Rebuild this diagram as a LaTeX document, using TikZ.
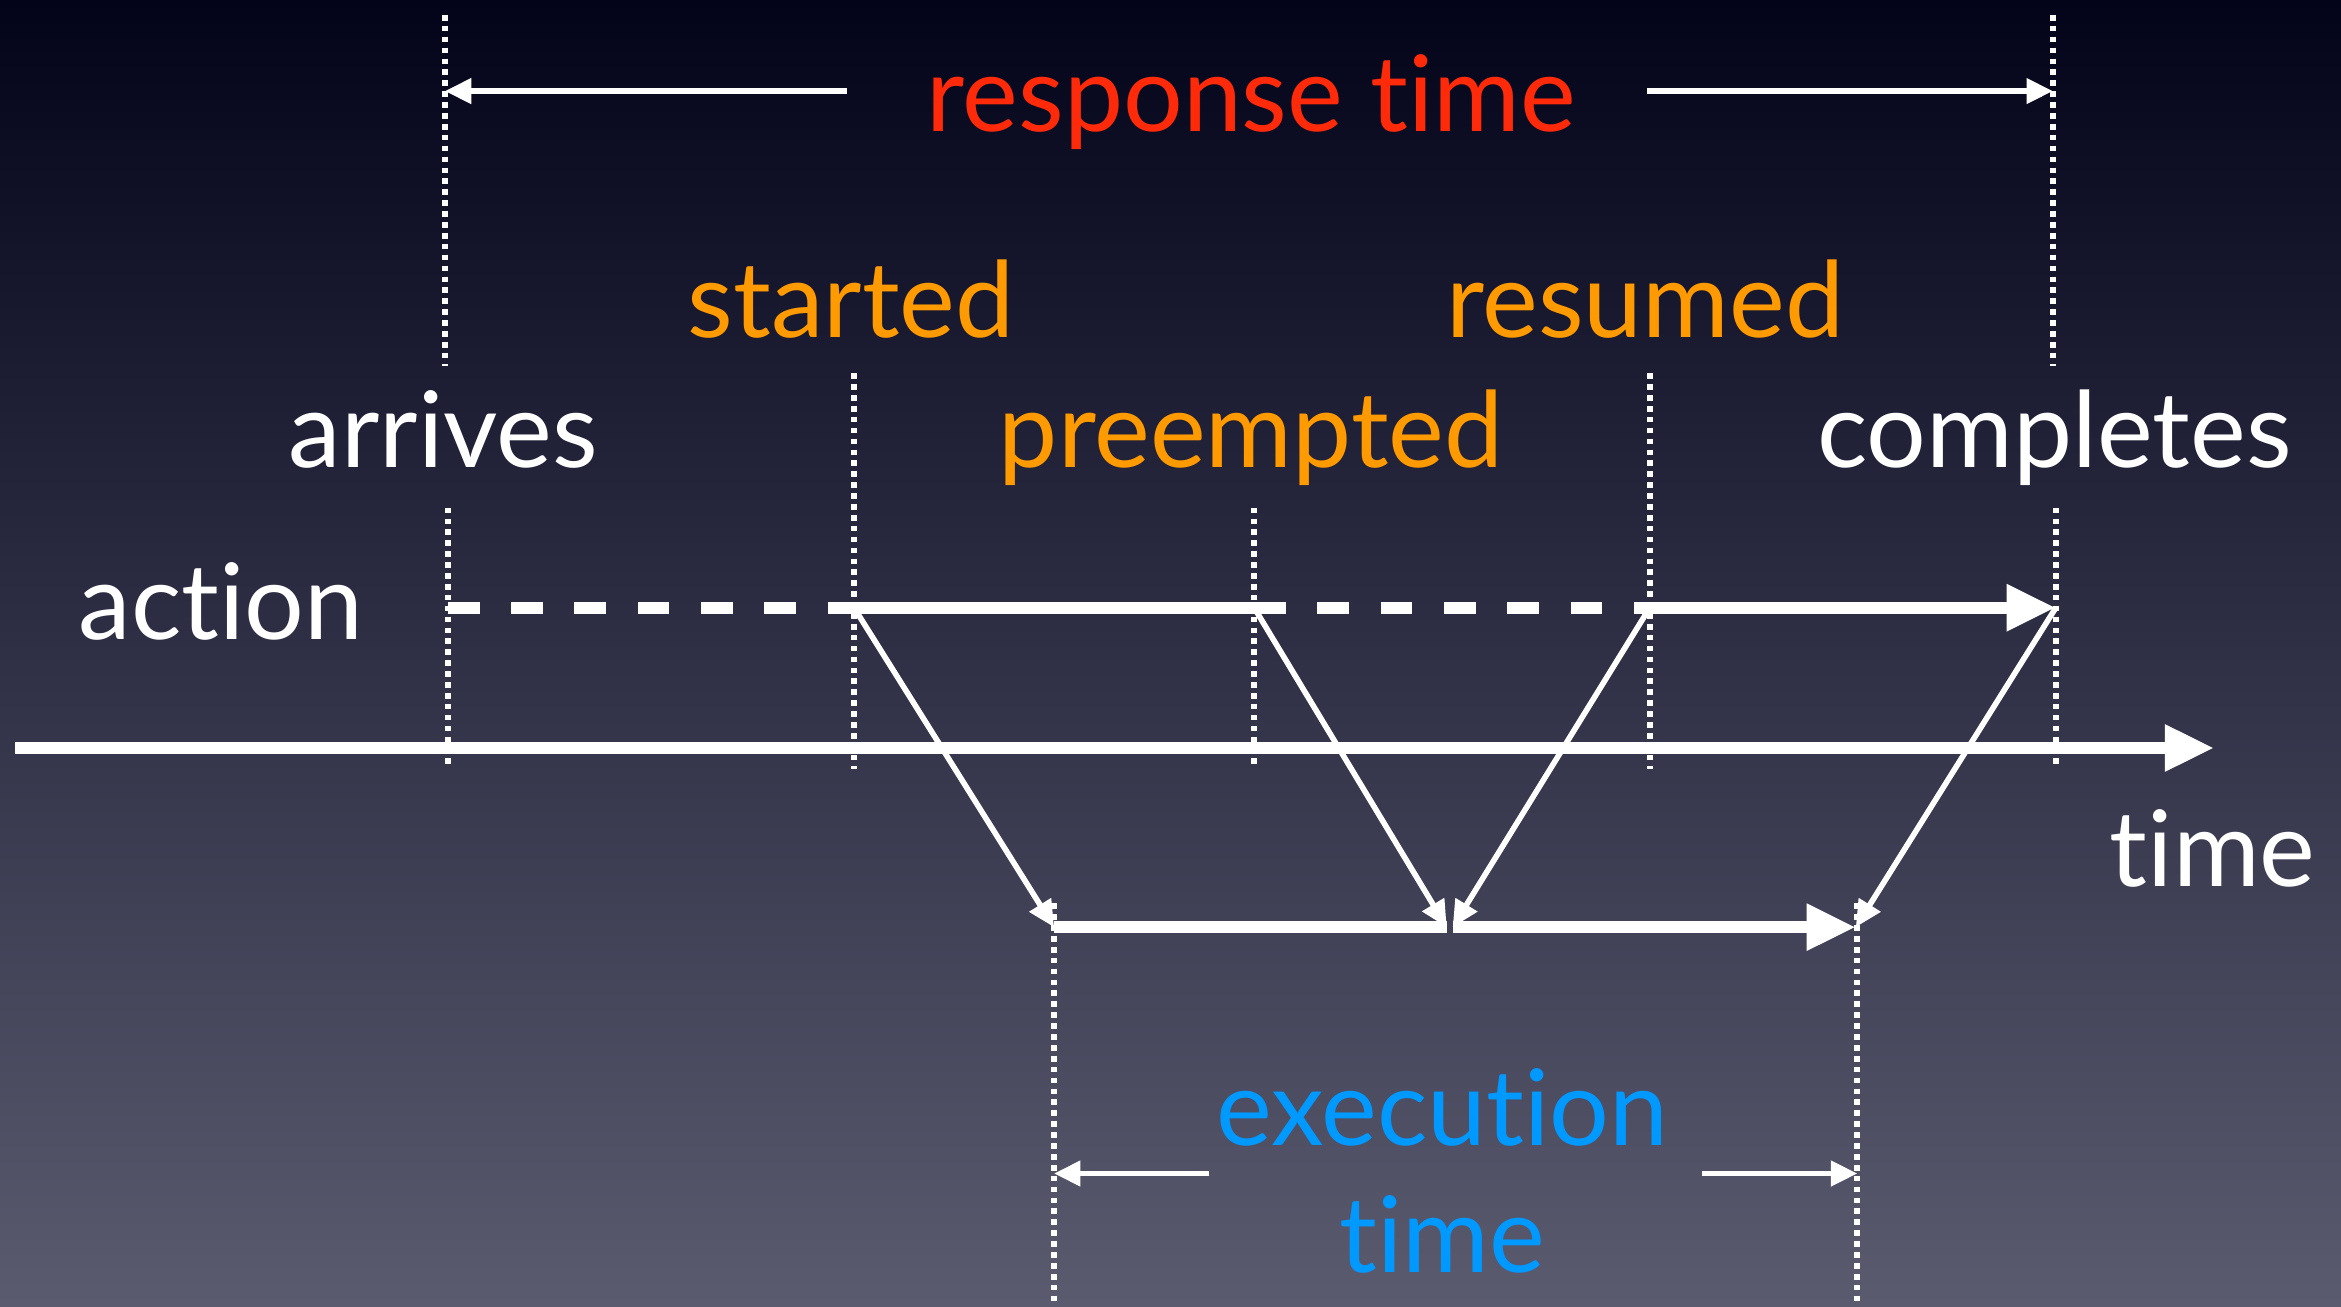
\documentclass[tikz,border=0pt]{standalone}
\usepackage{fontspec}
\setmainfont{Lato}[Ligatures=NoCommon]
\usepackage{tikz}
\usetikzlibrary{arrows,arrows.meta}
\definecolor{bgtop}{HTML}{03031A}
\definecolor{bgmid}{HTML}{2A2A45}
\definecolor{bgbot}{HTML}{5B5B70}
\definecolor{resp}{HTML}{FF2A0A}
\definecolor{evt}{HTML}{FF9A00}
\definecolor{exec}{HTML}{0099FF}
\tikzstyle{lbl} = [anchor=base, inner sep=0pt, font=\fontsize{30}{36}\selectfont]
\tikzstyle{guide} = [draw=white, line width=1.6pt, dash pattern=on 1.6pt off 1.5pt]
\tikzset{
  thinarrow/.style ={draw=white, line width=1.6pt, -{Triangle[length=7.5pt,width=7pt]}},
  bigarrow/.style ={draw=white, line width=3.4pt, -{Triangle[length=14pt,width=12.5pt]}},
  runline/.style ={draw=white, line width=3.4pt},
  waitline/.style ={draw=white, line width=3.4pt, dash pattern=on 9pt off 9pt}
}

\begin{document}
\begin{tikzpicture}[x=0.01493cm, y=-0.01493cm]
	\shade[top color=bgtop, middle color=bgmid, bottom color=bgbot] (0,0) rectangle (1568,875);
	\useasboundingbox (0,0) rectangle (1568,875);
	% labels
	\node[lbl, text=resp] (resp) at (838,88) {response time};
	\node[lbl, text=evt] (started) at (570,226) {started};
	\node[lbl, text=evt] (resumed) at (1102,226) {resumed};
	\node[lbl, text=white] (arrives) at (297,313) {arrives};
	\node[lbl, text=evt] (preempted) at (838,313) {preempted};
	\node[lbl, text=white] (completes) at (1376,313) {completes};
	\node[lbl, text=white] (action) at (148,428) {action};
	\node[lbl, text=white] (time) at (1482,594) {time};
	\node[lbl, text=exec] (execution) at (966,767) {execution};
	\node[lbl, text=exec] (etime) at (966,852) {time};
	% events on the action line
	\coordinate (arr) at (300,407);
	\coordinate (sta) at (572,407);
	\coordinate (pre) at (840,407);
	\coordinate (res) at (1105,407);
	\coordinate (com) at (1377,407);
	% execution line
	\coordinate (ex1) at (706,621);
	\coordinate (exl) at (969,621);
	\coordinate (exr) at (973,621);
	\coordinate (ex2) at (1243,621);
	% dotted guides
	\draw[guide] (298,10) -- (298,245);
	\draw[guide] (1375,10) -- (1375,245);
	\draw[guide] (300,340) -- (300,512);
	\draw[guide] (572,250) -- (572,515);
	\draw[guide] (840,340) -- (840,512);
	\draw[guide] (1105,250) -- (1105,515);
	\draw[guide] (1377,340) -- (1377,512);
	\draw[guide] (706,605) -- (706,875);
	\draw[guide] (1244,605) -- (1244,875);
	% response time
	\coordinate (r1) at (567,61);
	\coordinate (r2) at (1103,61);
	\draw[thinarrow] (r1) -- (298,61);
	\draw[thinarrow] (r2) -- (1375,61);
	% time axis
	\coordinate (t0) at (10,501);
	\coordinate (t1) at (1483,501);
	\draw[bigarrow] (t0) -- (t1);
	% action
	\draw[waitline] (arr) -- (sta);
	\draw[runline] (sta) -- (pre);
	\draw[waitline] (pre) -- (res);
	\draw[bigarrow] (res) -- (com);
	% mapping onto execution
	\draw[thinarrow] (sta) -- (ex1);
	\draw[thinarrow] (pre) -- (exl);
	\draw[thinarrow] (res) -- (exr);
	\draw[thinarrow] (com) -- (ex2);
	\draw[runline] (ex1) -- (exl);
	\draw[bigarrow] (exr) -- (ex2);
	% execution time
	\coordinate (e1) at (810,786);
	\coordinate (e2) at (1140,786);
	\draw[thinarrow] (e1) -- (706,786);
	\draw[thinarrow] (e2) -- (1244,786);
\end{tikzpicture}
\end{document}
